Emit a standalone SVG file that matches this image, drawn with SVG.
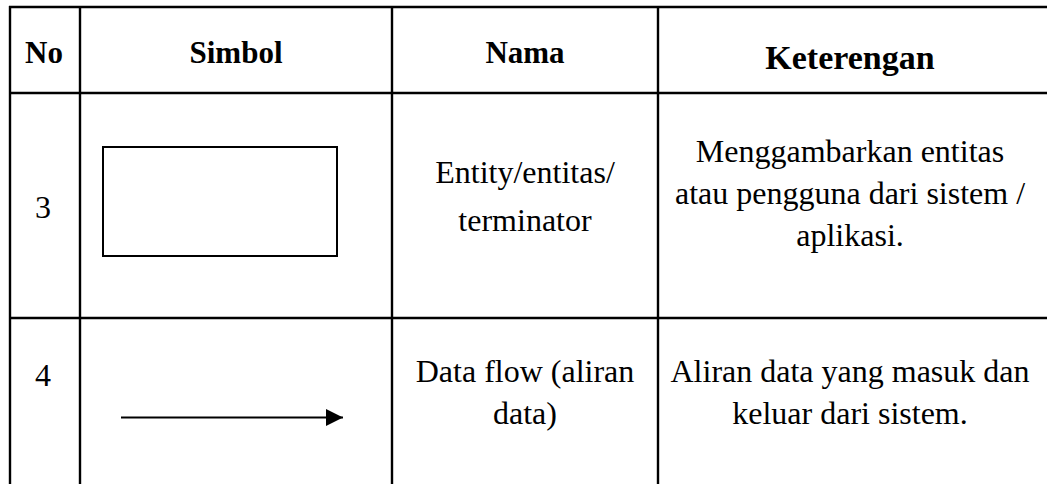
<svg xmlns="http://www.w3.org/2000/svg" width="1047" height="484" viewBox="0 0 1047 484">
<style>
.grid{stroke:#000;stroke-width:2.4;fill:none}
.h{font-family:"Liberation Serif","Times New Roman",serif;font-weight:bold;font-size:31px;fill:#000;text-anchor:middle}
.t{font-family:"Liberation Serif","Times New Roman",serif;font-size:32px;fill:#000;text-anchor:middle}
</style>
<defs>
<marker id="arr" markerWidth="17" markerHeight="17" refX="17" refY="8.5" orient="auto" markerUnits="userSpaceOnUse">
<path d="M0,0 L17,8.5 L0,17 Z" fill="#000"/>
</marker>
</defs>
<rect width="1047" height="484" fill="#fff"/>
<g id="table">
<line class="grid" x1="9" y1="7" x2="1047" y2="7"/>
<line class="grid" x1="9" y1="93" x2="1047" y2="93"/>
<line class="grid" x1="9" y1="318" x2="1047" y2="318"/>
<line class="grid" x1="10" y1="6" x2="10" y2="484"/>
<line class="grid" x1="80" y1="6" x2="80" y2="484"/>
<line class="grid" x1="392" y1="6" x2="392" y2="484"/>
<line class="grid" x1="658" y1="6" x2="658" y2="484"/>
</g>
<g id="header">
<text class="h" x="44" y="63">No</text>
<text class="h" x="236" y="63">Simbol</text>
<text class="h" x="525" y="63">Nama</text>
<text class="h" x="850" y="69" style="font-size:34px">Keterengan</text>
</g>
<g id="row3">
<text class="t" x="43" y="218">3</text>
<rect x="103" y="147" width="234" height="109" fill="none" stroke="#000" stroke-width="2"/>
<text class="t" x="525" y="183">Entity/entitas/</text>
<text class="t" x="525" y="231">terminator</text>
<text class="t" x="850" y="162">Menggambarkan entitas</text>
<text class="t" x="850" y="204">atau pengguna dari sistem /</text>
<text class="t" x="850" y="246">aplikasi.</text>
</g>
<g id="row4">
<text class="t" x="43" y="386">4</text>
<text class="t" x="525" y="382">Data flow (aliran</text>
<text class="t" x="525" y="424">data)</text>
<text class="t" x="850" y="382">Aliran data yang masuk dan</text>
<text class="t" x="850" y="424">keluar dari sistem.</text>
</g>
<g id="connectors">
<line x1="121" y1="417.5" x2="343" y2="417.5" stroke="#000" stroke-width="2" marker-end="url(#arr)"/>
</g>
</svg>
